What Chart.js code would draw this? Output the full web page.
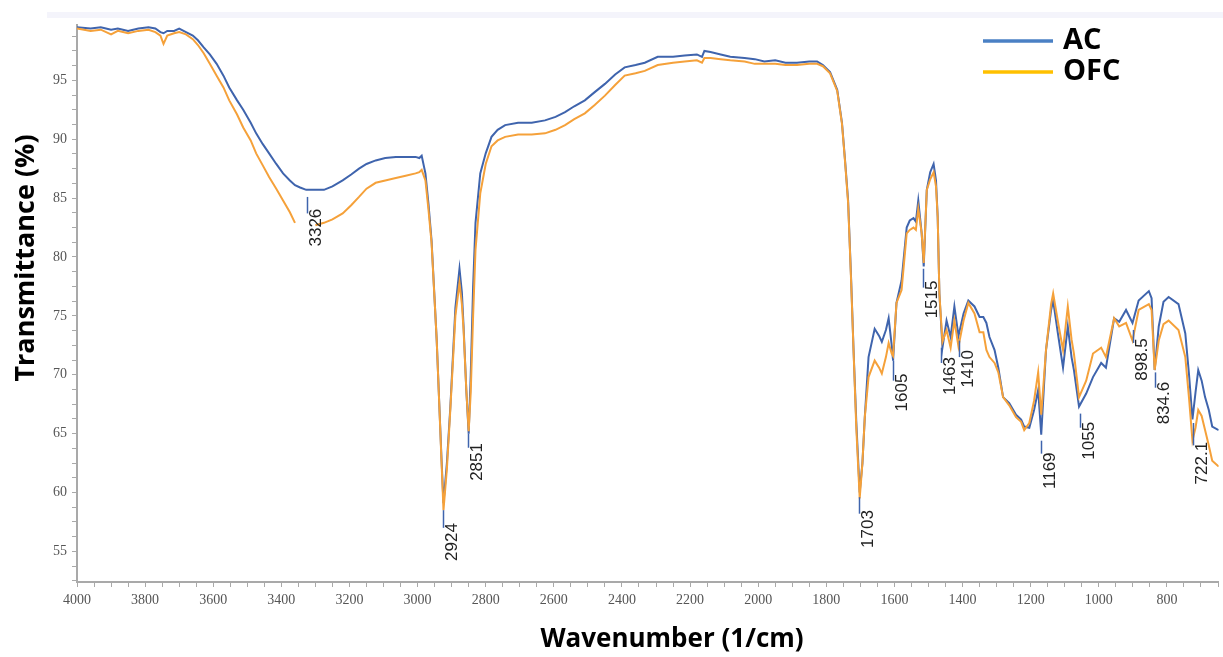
<!DOCTYPE html>
<html>
<head>
<meta charset="utf-8">
<script src="https://cdn.jsdelivr.net/npm/chart.js@4/dist/chart.umd.min.js"></script>
<style>
html,body{margin:0;padding:0;background:#fff;}
canvas{display:block;}
</style>
</head>
<body>
<canvas id="c" width="1223" height="657"></canvas>
<script>
// ---- data ----
const wavenumbers = [4000,3960,3930,3900,3880,3850,3820,3790,3770,3755,3746,3735,3715,3700,3680,3660,3645,3628,3610,3590,3570,3553,3530,3512,3490,3474,3455,3436,3415,3395,3375,3360,3345,3327,3300,3275,3250,3220,3195,3172,3150,3123,3095,3064,3035,3006,2995,2988,2977,2968,2959,2944,2930,2924,2914,2904,2889,2877,2870,2865,2857,2850,2844,2837,2830,2816,2800,2783,2765,2743,2705,2665,2626,2595,2567,2540,2509,2480,2450,2420,2392,2360,2333,2295,2250,2216,2180,2165,2158,2140,2110,2082,2040,2010,1982,1950,1920,1886,1850,1827,1810,1789,1768,1754,1745,1736,1727,1720,1712,1702,1694,1687,1676,1658,1645,1637,1625,1617,1608,1604,1594,1579,1564,1555,1544,1537,1530,1520,1514,1505,1495,1485,1478,1473,1468,1459,1447,1435,1424,1412,1397,1383,1365,1350,1339,1330,1321,1306,1295,1281,1263,1243,1228,1219,1204,1190,1178,1169,1155,1140,1134,1120,1105,1091,1080,1073,1058,1037,1017,993,979,955,940,920,901,883,853,845,836,824,810,795,766,746,735,725,716,708,698,688,677,667,648];
const acValues = [99.5,99.4,99.5,99.3,99.4,99.2,99.4,99.5,99.4,99.1,99.0,99.2,99.2,99.4,99.1,98.8,98.4,97.8,97.2,96.4,95.4,94.4,93.3,92.5,91.4,90.5,89.6,88.8,87.9,87.1,86.5,86.1,85.9,85.7,85.7,85.7,86.0,86.5,87.0,87.5,87.9,88.2,88.4,88.5,88.5,88.5,88.4,88.6,87.1,84.5,81.4,73.0,63.0,59.1,62.5,67.2,75.7,79.0,77.0,74.1,68.7,65.0,70.0,77.5,82.9,87.1,88.8,90.2,90.8,91.2,91.4,91.4,91.6,91.9,92.3,92.8,93.3,94.0,94.7,95.5,96.1,96.3,96.5,97.0,97.0,97.1,97.2,97.0,97.5,97.4,97.2,97.0,96.9,96.8,96.6,96.7,96.5,96.5,96.6,96.6,96.3,95.7,94.2,91.4,88.2,84.8,78.0,72.1,66.0,60.0,62.5,66.4,71.5,73.9,73.3,72.8,73.8,74.8,72.5,71.2,76.1,78.0,82.5,83.1,83.3,83.0,84.8,82.0,79.2,85.7,87.2,87.9,86.5,83.4,76.9,72.3,74.6,73.2,75.8,73.3,75.2,76.3,75.8,74.9,74.9,74.4,73.2,72.1,70.6,68.1,67.6,66.6,66.2,65.6,65.5,67.0,68.7,64.9,72.1,75.5,76.3,73.5,70.6,74.1,71.5,70.4,67.3,68.4,69.8,71.0,70.6,74.8,74.5,75.5,74.4,76.3,77.1,76.5,70.4,74.1,76.2,76.6,76.0,73.5,70.0,66.2,68.5,70.4,69.5,68.1,67.0,65.6,65.3];
const ofcValues = [99.4,99.2,99.3,98.9,99.2,99.0,99.2,99.3,99.1,98.8,98.1,98.8,99.0,99.1,98.9,98.5,98.0,97.3,96.4,95.4,94.4,93.3,92.1,91.0,89.9,88.8,87.8,86.8,85.8,84.8,83.8,82.9,null,null,82.7,82.9,83.2,83.7,84.4,85.1,85.8,86.3,86.5,86.7,86.9,87.1,87.2,87.4,86.5,84.0,81.2,73.0,62.8,58.5,62.0,67.0,75.0,77.8,76.0,73.8,68.7,65.2,68.5,75.0,80.6,85.4,87.9,89.4,89.9,90.2,90.4,90.4,90.5,90.8,91.2,91.7,92.2,92.9,93.7,94.6,95.4,95.6,95.8,96.3,96.5,96.6,96.7,96.5,96.9,96.9,96.8,96.7,96.6,96.4,96.4,96.4,96.3,96.3,96.4,96.4,96.2,95.6,94.1,91.3,88.1,84.6,77.8,72.0,65.5,59.5,62.5,66.4,69.8,71.2,70.6,70.1,71.5,72.7,71.8,71.6,76.1,77.2,82.0,82.3,82.5,82.3,84.1,82.0,79.5,85.7,86.6,87.2,86.0,83.4,76.9,72.8,73.8,72.3,74.6,72.4,74.6,76.1,75.2,73.6,73.6,72.1,71.5,71.0,70.2,68.1,67.4,66.4,66.0,65.3,65.9,67.8,70.2,66.6,72.1,76.0,76.9,74.5,72.1,75.8,73.0,71.8,68.1,69.5,71.8,72.3,71.5,74.8,74.1,74.4,72.9,75.5,76.0,75.5,70.4,72.9,74.3,74.6,73.8,71.5,68.0,64.4,65.5,67.0,66.5,65.3,64.0,62.7,62.2];
const seriesNames = ['AC','OFC'];
const yTickLabels = [55,60,65,70,75,80,85,90,95];
const xTickLabels = [4000,3800,3600,3400,3200,3000,2800,2600,2400,2200,2000,1800,1600,1400,1200,1000,800];
const peakWavenumbers = [3326,2924,2851,1703,1605,1515,1463,1410,1169,1055,898.5,834.6,722.1];
const peakLabels = ['3326','2924','2851','1703','1605','1515','1463','1410','1169','1055','898.5','834.6','722.1'];
const peakLeaderFrom = [85.1,58.5,65.0,59.6,71.2,79.0,72.3,72.9,64.4,66.7,73.8,70.2,65.9];
const peakLeaderTo = [83.7,57.0,63.8,58.2,69.5,77.4,71.0,71.5,63.3,65.5,72.7,68.9,64.0];
const peakLabelTop = [84.1,57.4,64.2,58.5,70.1,78.0,71.5,72.1,63.4,66.0,73.1,69.4,64.3];

// ---- styles ----
const AC_COLOR = '#3f64ad';
const OFC_COLOR = '#f5a13a';
const AC_LEGEND = '#4a80c4';
const OFC_LEGEND = '#ffc000';
const AXIS_COLOR = '#a9a9a9';

const acData = wavenumbers.map((w,i)=>({x:w,y:acValues[i]}));
const ofcData = wavenumbers.map((w,i)=>({x:w,y:ofcValues[i]}));

const decor = {
  id:'decor',
  beforeDraw(chart){
    const ctx = chart.ctx;
    ctx.save();
    ctx.fillStyle = '#f4f4fb';
    ctx.fillRect(47,12,chart.width-47,6);
    ctx.restore();
  },
  afterDatasetsDraw(chart){
    const ctx = chart.ctx, xs = chart.scales.x, ys = chart.scales.y;
    ctx.save();
    peakWavenumbers.forEach((w,i)=>{
      const px = Math.round(xs.getPixelForValue(w))+0.5;
      ctx.strokeStyle = AC_COLOR;
      ctx.lineWidth = 1.5;
      ctx.beginPath();
      ctx.moveTo(px, ys.getPixelForValue(peakLeaderFrom[i]));
      ctx.lineTo(px, ys.getPixelForValue(peakLeaderTo[i]));
      ctx.stroke();
      ctx.save();
      ctx.translate(px+0.5, ys.getPixelForValue(peakLabelTop[i]));
      ctx.rotate(-Math.PI/2);
      ctx.fillStyle = '#222';
      ctx.font = '17px "Liberation Sans", Arial, sans-serif';
      ctx.textAlign = 'right';
      ctx.textBaseline = 'top';
      ctx.fillText(peakLabels[i], 0, 0);
      ctx.restore();
    });
    ctx.restore();
  },
  afterDraw(chart){
    const ctx = chart.ctx;
    ctx.save();
    // axis titles
    ctx.fillStyle = '#000';
    ctx.font = 'bold 26px "Open Sans", sans-serif';
    ctx.textAlign = 'center';
    ctx.textBaseline = 'middle';
    ctx.fillText('Wavenumber (1/cm)', 672, 640);
    ctx.save();
    ctx.translate(26, 258);
    ctx.rotate(-Math.PI/2);
    ctx.font = 'bold 27px "Open Sans", sans-serif';
    ctx.fillText('Transmittance (%)', 0, 0);
    ctx.restore();
    // legend
    const colors = [AC_LEGEND, OFC_LEGEND];
    const ly = [41, 72];
    ctx.lineWidth = 3.5;
    ctx.font = 'bold 29px "Open Sans", sans-serif';
    ctx.textAlign = 'left';
    seriesNames.forEach((n,i)=>{
      ctx.strokeStyle = colors[i];
      ctx.beginPath();
      ctx.moveTo(983, ly[i]);
      ctx.lineTo(1053, ly[i]);
      ctx.stroke();
      ctx.fillStyle = '#000';
      ctx.fillText(n, 1063, ly[i]);
    });
    ctx.restore();
  }
};

new Chart(document.getElementById('c'), {
  type:'line',
  data:{
    datasets:[
      {label:seriesNames[0], data:acData, borderColor:AC_COLOR, borderWidth:2, pointRadius:0, tension:0, order:1, spanGaps:false},
      {label:seriesNames[1], data:ofcData, borderColor:OFC_COLOR, borderWidth:2, pointRadius:0, tension:0, order:0, spanGaps:false}
    ]
  },
  plugins:[decor],
  options:{
    responsive:false,
    animation:false,
    devicePixelRatio:1,
    layout:{padding:{top:25,left:0,right:0,bottom:0}},
    plugins:{legend:{display:false}, tooltip:{enabled:false}},
    scales:{
      x:{
        type:'linear', reverse:true, min:648, max:4000,
        afterFit(s){ s.height = 75; },
        afterBuildTicks(s){ const t=[]; for(let v=4000; v>=650; v-=50) t.push({value:v}); s.ticks=t; },
        border:{display:true,color:AXIS_COLOR,width:2},
        grid:{display:true,drawOnChartArea:false,drawTicks:true,tickLength:5,color:AXIS_COLOR,tickColor:AXIS_COLOR},
        ticks:{autoSkip:false,maxRotation:0,padding:5,color:'#555',font:{family:'"Liberation Serif", "Times New Roman", serif',size:14},
          callback:(v)=> xTickLabels.includes(v) ? String(v) : ''}
      },
      y:{
        type:'linear', min:52.4, max:99.7,
        afterFit(s){ s.width = 77; },
        afterBuildTicks(s){ const t=[]; for(let v=52.5; v<=99.7; v+=1.25) t.push({value:Math.round(v*100)/100}); s.ticks=t; },
        border:{display:true,color:AXIS_COLOR,width:2},
        grid:{display:true,drawOnChartArea:false,drawTicks:true,tickLength:5,color:AXIS_COLOR,tickColor:AXIS_COLOR},
        ticks:{autoSkip:false,padding:5,color:'#555',font:{family:'"Liberation Serif", "Times New Roman", serif',size:14},
          callback:(v)=> yTickLabels.includes(v) ? String(v) : ''}
      }
    }
  }
});
</script>
</body>
</html>
